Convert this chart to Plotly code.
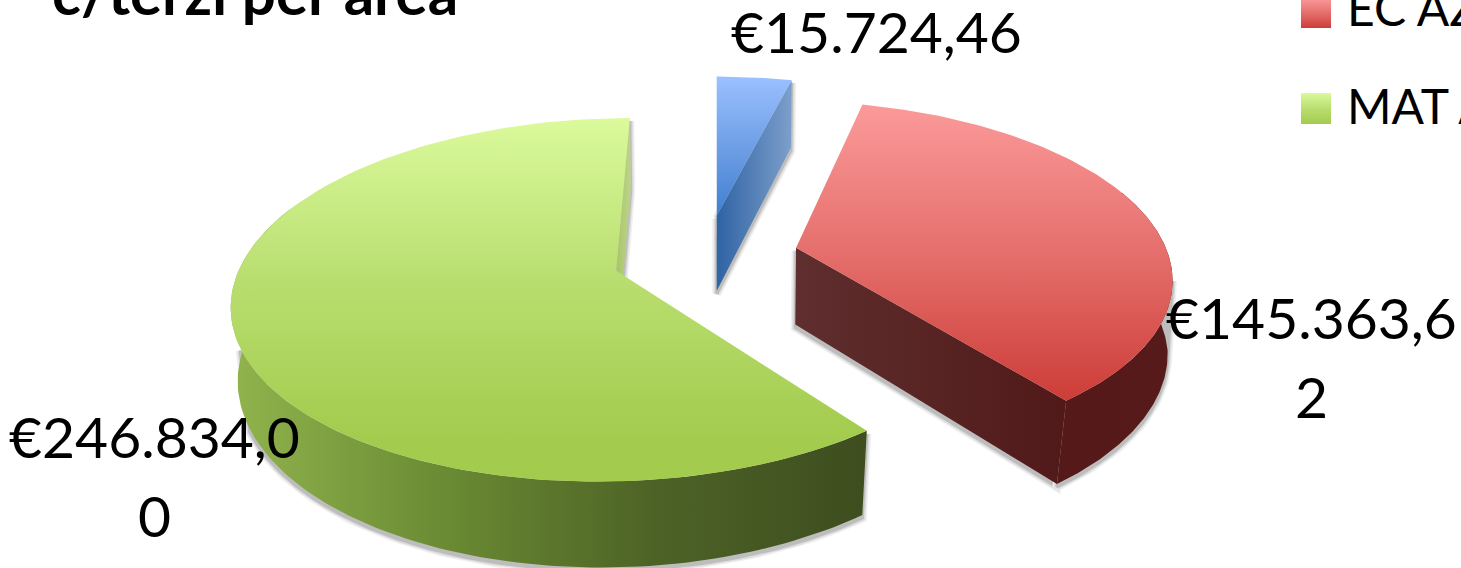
"""Exploded 3D pie (c/terzi per area), drawn as filled polygons in a pixel-sized axis."""

import numpy as np
import plotly.graph_objects as go

# Data
VOCI = ["MAT AZ blu", "EC AZ", "MAT AZ"]
VALORI = [15724.46, 145363.62, 246834.00]
TITOLO = "c/terzi per area"
ETICHETTE = ["€15.724,46", "€145.363,6", "2", "€246.834,0", "0"]

# Colours: top face (vertical gradient), outer wall and cut wall (horizontal gradient)
TOP_BLU = ["#9ac0ff", "#6f9fe6", "#3f7fcf"]
TOP_ROSSO = ["#fb9a9a", "#e56f6c", "#cd3d38"]
TOP_VERDE = ["#dbfa9c", "#b9de70", "#a3cb4d"]
TAGLIO_BLU = ["#2f63a4", "#7d9fcb"]
TAGLIO_ROSSO = ["#5f2e2e", "#511919"]
ARCO_ROSSO = ["#551919", "#571a1a"]
ARCO_VERDE = ["#8fb24c", "#6a8a33", "#4d6326", "#3e4e1f"]
TAGLIO_VERDE = ["#a9c46a", "#bcd488"]

# Perspective camera, in pixels of the 1461x568 page
VX, VY = 716, 272
A, B, K = 378, 177.5, 0.16
CENTRO = (-0.028, 0.088)
ESPLOSO = 0.25


def proietta(x, y, basso=False):
    """World point on the pie -> screen point, top face or bottom face."""
    f = 1 + K * y
    sx = (A * x) / f
    sy = VY - B * y / f
    if basso:
        sx = sx * (0.99 + 0.025 * np.minimum(y, 0))
        sy = sy + 78 - 8 * y
    return VX + sx, sy


def punti_arco(ox, oy, a0, a1, basso=False):
    t = np.radians(np.linspace(a0, a1, 120))
    return proietta(ox + np.sin(t), oy + np.cos(t), basso)


def poligono(x, y, colori, tipo, **kw):
    stops = np.linspace(0, 1, len(colori))
    return go.Scatter(
        x=list(x) + [x[0]], y=list(y) + [y[0]], mode="lines", fill="toself",
        line=dict(width=0), hoverinfo="skip", showlegend=False,
        fillgradient=dict(type=tipo, colorscale=[[s, c] for s, c in zip(stops, colori)], **kw),
    )


def ombra(x, y):
    """Soft grey halo: opaque layers, it only ever falls on the white page."""
    tracce = []
    for col, w in [("#f0f0f0", 9), ("#dcdcdc", 6), ("#bdbdbd", 3)]:
        tracce.append(go.Scatter(
            x=list(x) + [x[0]], y=[v + 3 for v in y] + [y[0] + 3], mode="lines", fill="toself",
            fillcolor=col, line=dict(width=w, color=col), hoverinfo="skip", showlegend=False,
        ))
    return tracce


def fascia(ox, oy, a0, a1):
    """Outer wall between two angles, as one closed polygon."""
    xt, yt = punti_arco(ox, oy, a0, a1)
    xb, yb = punti_arco(ox, oy, a0, a1, True)
    return list(xt) + list(xb[::-1]), list(yt) + list(yb[::-1])


def muro(p0, p1):
    """Quad between an edge on the top face and the same edge on the bottom face."""
    (x0, y0), (x1, y1) = p0, p1
    xs0, ys0 = proietta(x0, y0)
    xs1, ys1 = proietta(x1, y1)
    xb1, yb1 = proietta(x1, y1, True)
    xb0, yb0 = proietta(x0, y0, True)
    return [xs0, xs1, xb1, xb0], [ys0, ys1, yb1, yb0]


# Slice angles and explosion come from the values
quote = np.array(VALORI) / sum(VALORI) * 360
fine = np.cumsum(quote)
inizio = fine - quote
medio = np.radians((inizio + fine) / 2)
OX = CENTRO[0] + ESPLOSO * np.sin(medio)
OY = CENTRO[1] + ESPLOSO * np.cos(medio)

fig = go.Figure()
ombre, solidi = [], []

# Green slice
ox, oy, a0, a1 = OX[2], OY[2], inizio[2], fine[2]
ombre += ombra(*fascia(ox, oy, a0, 246))
arco_x, arco_y = fascia(ox, oy, a0, 292)
solidi.append(poligono(arco_x, arco_y, ARCO_VERDE, "horizontal", start=240, stop=860))
mx, my = muro((ox, oy), (ox + np.sin(np.radians(a1)), oy + np.cos(np.radians(a1))))
ombre += ombra(mx, my)
solidi.append(poligono(mx, my, TAGLIO_VERDE, "horizontal"))
xt, yt = punti_arco(ox, oy, a0, a1)
ax, ay = proietta(ox, oy)
solidi.append(poligono([ax] + list(xt), [ay] + list(yt), TOP_VERDE, "vertical", start=118, stop=440))

# Red slice
ox, oy, a0, a1 = OX[1], OY[1], inizio[1], fine[1]
t1 = (ox + np.sin(np.radians(a1)), oy + np.cos(np.radians(a1)))
mx, my = muro((ox, oy), t1)
ombre += ombra(mx, my)
solidi.append(poligono(mx, my, TAGLIO_ROSSO, "horizontal"))
ombre += ombra(*fascia(ox, oy, 100, a1))
arco_x, arco_y = fascia(ox, oy, 70, a1)
solidi.append(poligono(arco_x, arco_y, ARCO_ROSSO, "horizontal"))
xt, yt = punti_arco(ox, oy, a0, a1)
ax, ay = proietta(ox, oy)
solidi.append(poligono([ax] + list(xt), [ay] + list(yt), TOP_ROSSO, "vertical", start=105, stop=400))

# Blue slice
ox, oy, a0, a1 = OX[0], OY[0], inizio[0], fine[0]
t1 = (ox + np.sin(np.radians(a1)), oy + np.cos(np.radians(a1)))
mx, my = muro((ox, oy), t1)
ombre += ombra(mx, my)
solidi.append(poligono(mx, my, TAGLIO_BLU, "horizontal"))
xt, yt = punti_arco(ox, oy, a0, a1)
ax, ay = proietta(ox, oy)
solidi.append(poligono([ax] + list(xt), [ay] + list(yt), TOP_BLU, "vertical", start=77, stop=216))

# Legend swatches
solidi.append(poligono([1301, 1331, 1331, 1301], [-2, -2, 28, 28], TOP_ROSSO, "vertical", start=-2, stop=28))
solidi.append(poligono([1301, 1331, 1331, 1301], [93, 93, 124, 124], TOP_VERDE, "vertical", start=93, stop=124))

fig.add_traces(ombre + solidi)

FONT = "Lato, 'Open Sans', sans-serif"


def testo(x, y, s, size=57, bold=False, anchor="center"):
    # paper refs: an axis-anchored annotation would vanish when its anchor leaves the range
    fig.add_annotation(
        x=x / 1461, y=1 - y / 568, xref="paper", yref="paper",
        text=f"<b>{s}</b>" if bold else s, showarrow=False,
        xanchor=anchor, yanchor="middle", font=dict(family=FONT, size=size, color="#000000"),
    )


testo(50, -8, TITOLO, size=60, bold=True, anchor="left")
testo(876, 31, ETICHETTE[0])
testo(1311, 317, ETICHETTE[1])
testo(1311, 396, ETICHETTE[2])
testo(154, 436, ETICHETTE[3])
testo(154, 515, ETICHETTE[4])
testo(1345, 8, VOCI[1], size=48, anchor="left")
testo(1345, 105, VOCI[2], size=48, anchor="left")

fig.update_layout(
    width=1461, height=568, margin=dict(l=0, r=0, t=0, b=0),
    paper_bgcolor="white", plot_bgcolor="white", showlegend=False,
    xaxis=dict(range=[0, 1461], visible=False, fixedrange=True),
    yaxis=dict(range=[568, 0], visible=False, fixedrange=True),
)

fig.write_html(
    "out.html", config={"displayModeBar": False},
    post_script="document.body.style.margin='0';document.body.style.overflow='hidden';",
)
